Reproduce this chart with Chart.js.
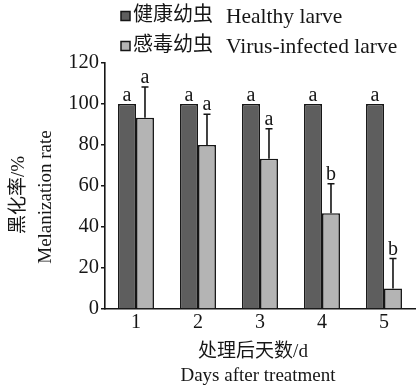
<!DOCTYPE html>
<html>
<head>
<meta charset="utf-8">
<script src="https://cdn.jsdelivr.net/npm/chart.js@4.4.1/dist/chart.umd.min.js"></script>
<style>
  html, body { margin: 0; padding: 0; background: #fff; }
  canvas { display: block; }
</style>
</head>
<body>
<canvas id="melanChart" width="419" height="388"></canvas>
<script>
// dados
const days = ['1', '2', '3', '4', '5'];
const seriesLabels = ['健康幼虫  Healthy larve', '感毒幼虫  Virus-infected larve'];
const healthyValues = [100, 100, 100, 100, 100];
const infectedValues = [93.3, 80, 73.3, 46.7, 10];
const infectedErrors = [15, 15, 14.6, 14.4, 14.6];
const healthyLetters = ['a', 'a', 'a', 'a', 'a'];
const infectedLetters = ['a', 'a', 'a', 'b', 'b'];
const yTicks = [0, 20, 40, 60, 80, 100, 120];
const yTitle = ['黑化率/%', 'Melanization rate'];
const xTitle = ['处理后天数/d', 'Days after treatment'];

const FONT = "'Liberation Serif', 'Noto Sans CJK SC', serif";
const INK = '#161616';
const DARK = '#5e5e5e';
const LIGHT = '#b4b4b4';

// barras de erro, letras, títulos e legenda
const extrasPlugin = {
    id: 'extras',
    afterDatasetsDraw(chart) {
        const ctx = chart.ctx;
        const y = chart.scales.y;
        ctx.save();
        ctx.fillStyle = INK;
        ctx.strokeStyle = INK;
        ctx.lineWidth = 1.6;
        ctx.textAlign = 'center';
        ctx.textBaseline = 'alphabetic';
        ctx.font = '20px ' + FONT;

        chart.getDatasetMeta(0).data.forEach((bar, i) => {
            ctx.fillText(healthyLetters[i], bar.x, bar.y - 3);
        });

        chart.getDatasetMeta(1).data.forEach((bar, i) => {
            const top = y.getPixelForValue(infectedValues[i] + infectedErrors[i]);
            ctx.beginPath();
            ctx.moveTo(bar.x, bar.y);
            ctx.lineTo(bar.x, top);
            ctx.moveTo(bar.x - 3.5, top);
            ctx.lineTo(bar.x + 3.5, top);
            ctx.stroke();
            ctx.fillText(infectedLetters[i], bar.x, top - 4);
        });
        ctx.restore();
    },
    afterDraw(chart) {
        const ctx = chart.ctx;
        ctx.save();
        ctx.fillStyle = INK;
        ctx.textAlign = 'center';
        ctx.textBaseline = 'middle';
        ctx.font = '19px ' + FONT;

        // título do eixo y
        ctx.save();
        ctx.translate(19, 195);
        ctx.rotate(-Math.PI / 2);
        ctx.fillText(yTitle[0], 0, 0);
        ctx.restore();
        ctx.save();
        ctx.translate(46, 197);
        ctx.rotate(-Math.PI / 2);
        ctx.fillText(yTitle[1], 0, 0);
        ctx.restore();

        // título do eixo x
        ctx.fillText(xTitle[0], 253, 352);
        ctx.fillText(xTitle[1], 258, 376);

        // legenda: parte chinesa e parte inglesa
        const colors = [DARK, LIGHT];
        ctx.textAlign = 'left';
        seriesLabels.forEach((label, i) => {
            const cy = 16 + i * 30;
            const parts = label.split('  ');
            ctx.fillStyle = colors[i];
            ctx.fillRect(121, cy - 4.5, 9, 9);
            ctx.strokeStyle = INK;
            ctx.lineWidth = 1.5;
            ctx.strokeRect(121, cy - 4.5, 9, 9);
            ctx.fillStyle = INK;
            ctx.font = '20px ' + FONT;
            ctx.fillText(parts[0], 133, cy);
            ctx.font = '21.5px ' + FONT;
            ctx.fillText(parts[1], 226, cy + 1);
        });
        ctx.restore();
    }
};

const ctx = document.getElementById('melanChart').getContext('2d');
new Chart(ctx, {
    type: 'bar',
    data: {
        labels: days,
        datasets: [{
            label: seriesLabels[0],
            data: healthyValues,
            backgroundColor: DARK,
            borderColor: INK,
            borderWidth: 1.6,
            categoryPercentage: 0.58,
            barPercentage: 1
        }, {
            label: seriesLabels[1],
            data: infectedValues,
            backgroundColor: LIGHT,
            borderColor: INK,
            borderWidth: 1.6,
            categoryPercentage: 0.58,
            barPercentage: 1
        }]
    },
    options: {
        responsive: false,
        animation: false,
        devicePixelRatio: 1,
        layout: { padding: { top: 63, right: 4, left: 0, bottom: 0 } },
        plugins: {
            legend: { display: false },
            tooltip: { enabled: false }
        },
        scales: {
            x: {
                grid: { display: false, drawTicks: false },
                border: { display: true, color: INK, width: 1.6 },
                ticks: { color: INK, font: { family: FONT, size: 20 }, padding: 2 },
                afterFit: scale => { scale.height = 79; }
            },
            y: {
                min: 0,
                max: 120,
                afterBuildTicks: scale => { scale.ticks = yTicks.map(v => ({ value: v })); },
                grid: { drawOnChartArea: false, drawTicks: true, tickLength: 4, color: INK, lineWidth: 1.5 },
                border: { display: true, color: INK, width: 1.6 },
                ticks: { color: INK, font: { family: FONT, size: 20.5 }, padding: 2 },
                afterFit: scale => { scale.width = 105; }
            }
        }
    },
    plugins: [extrasPlugin]
});
</script>
</body>
</html>
